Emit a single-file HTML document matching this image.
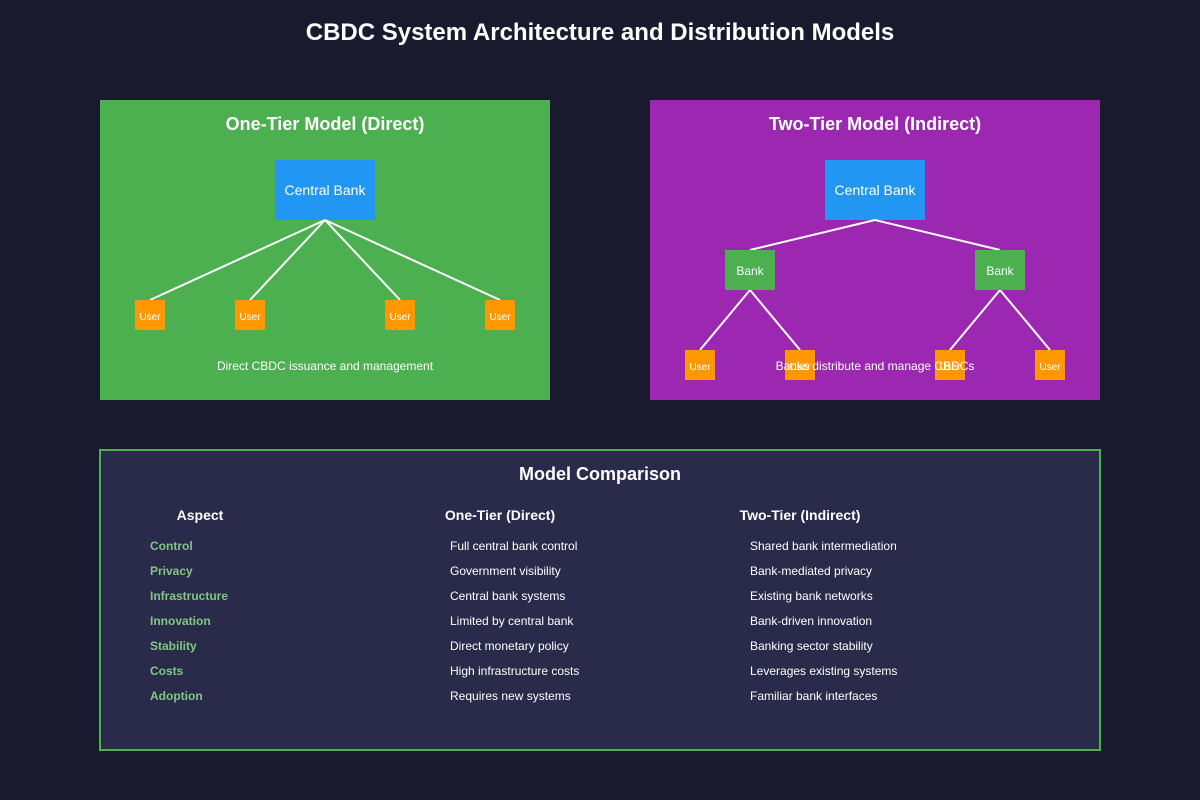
<!DOCTYPE html>
<html>
<head>
<meta charset="utf-8">
<style>
html,body{margin:0;padding:0;background:#1a1a2e;width:1200px;height:800px;overflow:hidden}
svg{display:block}
text{font-family:"Liberation Sans",Arial,sans-serif;fill:#fff}
.m{text-anchor:middle}
.b{font-weight:bold}
.l{stroke:#fff;stroke-width:2;fill:none}
.u{fill:#ff9800}
.a{fill:#81c784;font-weight:bold;font-size:12px}
.r{fill:#fff;font-size:12px}
</style>
</head>
<body>
<svg width="1200" height="800" xmlns="http://www.w3.org/2000/svg">
<rect width="1200" height="800" fill="#1a1a2e"/>
<text x="600" y="40" class="m b" font-size="24">CBDC System Architecture and Distribution Models</text>

<rect x="100" y="100" width="450" height="300" fill="#4caf50"/>
<text x="325" y="130" class="m b" font-size="18">One-Tier Model (Direct)</text>
<rect x="275" y="160" width="100" height="60" fill="#2196f3"/>
<text x="325" y="195" class="m" font-size="14">Central Bank</text>
<path class="l" d="M325 220L150 300M325 220L250 300M325 220L400 300M325 220L500 300"/>
<rect class="u" x="135" y="300" width="30" height="30"/>
<rect class="u" x="235" y="300" width="30" height="30"/>
<rect class="u" x="385" y="300" width="30" height="30"/>
<rect class="u" x="485" y="300" width="30" height="30"/>
<text x="150" y="320" class="m" font-size="10">User</text>
<text x="250" y="320" class="m" font-size="10">User</text>
<text x="400" y="320" class="m" font-size="10">User</text>
<text x="500" y="320" class="m" font-size="10">User</text>
<text x="325" y="370" class="m" font-size="12">Direct CBDC issuance and management</text>

<rect x="650" y="100" width="450" height="300" fill="#9c27b0"/>
<text x="875" y="130" class="m b" font-size="18">Two-Tier Model (Indirect)</text>
<rect x="825" y="160" width="100" height="60" fill="#2196f3"/>
<text x="875" y="195" class="m" font-size="14">Central Bank</text>
<path class="l" d="M875 220L750 250M875 220L1000 250M750 290L700 350M750 290L800 350M1000 290L950 350M1000 290L1050 350"/>
<rect x="725" y="250" width="50" height="40" fill="#4caf50"/>
<rect x="975" y="250" width="50" height="40" fill="#4caf50"/>
<text x="750" y="275" class="m" font-size="12">Bank</text>
<text x="1000" y="275" class="m" font-size="12">Bank</text>
<rect class="u" x="685" y="350" width="30" height="30"/>
<rect class="u" x="785" y="350" width="30" height="30"/>
<rect class="u" x="935" y="350" width="30" height="30"/>
<rect class="u" x="1035" y="350" width="30" height="30"/>
<text x="700" y="370" class="m" font-size="10">User</text>
<text x="800" y="370" class="m" font-size="10">User</text>
<text x="950" y="370" class="m" font-size="10">User</text>
<text x="1050" y="370" class="m" font-size="10">User</text>
<text x="875" y="370" class="m" font-size="12">Banks distribute and manage CBDCs</text>

<rect x="100" y="450" width="1000" height="300" fill="#2a2a4a" stroke="#4caf50" stroke-width="2"/>
<text x="600" y="480" class="m b" font-size="18">Model Comparison</text>
<text x="200" y="520" class="m b" font-size="14">Aspect</text>
<text x="500" y="520" class="m b" font-size="14">One-Tier (Direct)</text>
<text x="800" y="520" class="m b" font-size="14">Two-Tier (Indirect)</text>

<text x="150" y="550" class="a">Control</text>
<text x="150" y="575" class="a">Privacy</text>
<text x="150" y="600" class="a">Infrastructure</text>
<text x="150" y="625" class="a">Innovation</text>
<text x="150" y="650" class="a">Stability</text>
<text x="150" y="675" class="a">Costs</text>
<text x="150" y="700" class="a">Adoption</text>

<text x="450" y="550" class="r">Full central bank control</text>
<text x="450" y="575" class="r">Government visibility</text>
<text x="450" y="600" class="r">Central bank systems</text>
<text x="450" y="625" class="r">Limited by central bank</text>
<text x="450" y="650" class="r">Direct monetary policy</text>
<text x="450" y="675" class="r">High infrastructure costs</text>
<text x="450" y="700" class="r">Requires new systems</text>

<text x="750" y="550" class="r">Shared bank intermediation</text>
<text x="750" y="575" class="r">Bank-mediated privacy</text>
<text x="750" y="600" class="r">Existing bank networks</text>
<text x="750" y="625" class="r">Bank-driven innovation</text>
<text x="750" y="650" class="r">Banking sector stability</text>
<text x="750" y="675" class="r">Leverages existing systems</text>
<text x="750" y="700" class="r">Familiar bank interfaces</text>
</svg>
</body>
</html>
